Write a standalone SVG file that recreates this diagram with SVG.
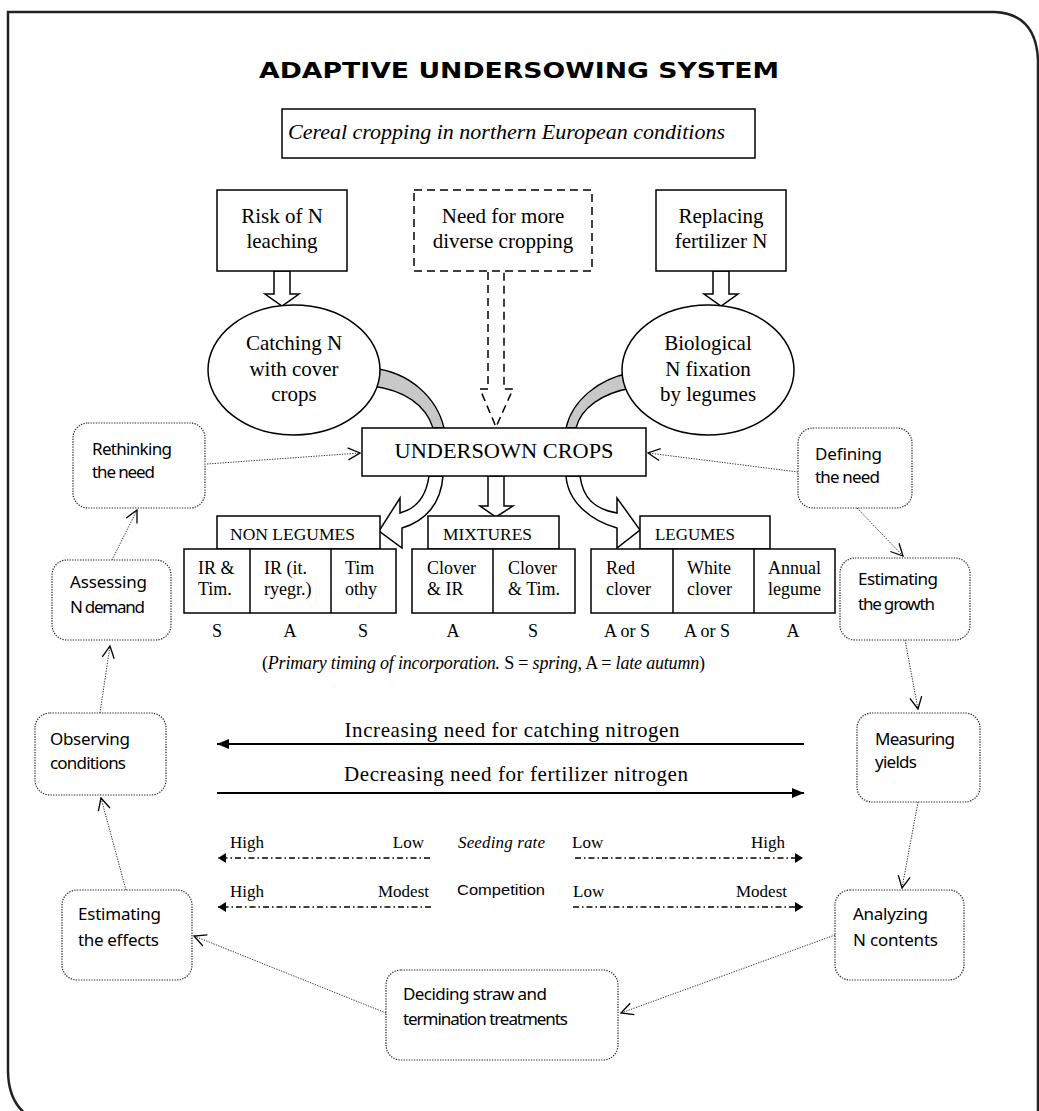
<svg xmlns="http://www.w3.org/2000/svg" width="1039" height="1111" viewBox="0 0 1039 1111">
<defs>
<style>
.frame{fill:none;stroke:#222;stroke-width:2.5}
.box{fill:#fff;stroke:#000;stroke-width:1.5}
.dbox{fill:#fff;stroke:#000;stroke-width:1.5;stroke-dasharray:8,5}
.ell{fill:#fff;stroke:#000;stroke-width:1.5}
.ser{font-family:"Liberation Serif","Times New Roman",serif;fill:#000}
.big{font-size:21px}
.cell{font-size:18px}
.hand{font-family:"Noto Sans","Open Sans",sans-serif;font-size:17px;fill:#000}
.cyc{fill:#fff;stroke:#222;stroke-width:1.2;stroke-dasharray:1.3,1.3}
.dot{fill:none;stroke:#333;stroke-width:1;stroke-dasharray:1.3,1.3}
.hollow{fill:#fff;stroke:#000;stroke-width:1.5;stroke-linejoin:miter}
.dhollow{fill:none;stroke:#000;stroke-width:1.5;stroke-dasharray:8,5}
.gray{fill:#c8c8c8;stroke:#000;stroke-width:1.3}
.dd{fill:none;stroke:#000;stroke-width:1.6;stroke-dasharray:6,3,1.5,3}
.solid{fill:none;stroke:#000;stroke-width:2}
</style>
<marker id="open" viewBox="0 0 14 14" refX="13" refY="7" markerWidth="14" markerHeight="14" markerUnits="userSpaceOnUse" orient="auto">
<path d="M1,1 L13,7 L1,13" fill="none" stroke="#000" stroke-width="1.3"/>
</marker>
<marker id="fill" viewBox="0 0 12 10" refX="12" refY="5" markerWidth="12" markerHeight="10" markerUnits="userSpaceOnUse" orient="auto">
<path d="M0,0 L12,5 L0,10 Z" fill="#000"/>
</marker>
<marker id="sm" viewBox="0 0 8 10" refX="8" refY="5" markerWidth="8" markerHeight="10" markerUnits="userSpaceOnUse" orient="auto">
<path d="M0,0 L8,5 L0,10 Z" fill="#000"/>
</marker>
</defs>
<rect width="1039" height="1111" fill="#fff"/>
<path class="frame" d="M40,1122 Q8,1110 8,1070 V12 H995 Q1036,14 1038,60 V1111"/>

<text x="519" y="78" text-anchor="middle" font-family="'DejaVu Sans','Liberation Sans',sans-serif" font-weight="bold" font-size="21" textLength="520" lengthAdjust="spacingAndGlyphs">ADAPTIVE UNDERSOWING SYSTEM</text>

<g id="context">
<rect class="box" x="282" y="109" width="473" height="49"/>
<text class="ser" x="288" y="139" font-size="21" font-style="italic" textLength="437" lengthAdjust="spacingAndGlyphs">Cereal cropping in northern European conditions</text>
</g>

<g id="connectors">
<!-- straight hollow arrows -->
<polygon class="hollow" points="274,271 290,271 290,294 299,294 282,306 265,294 274,294"/>
<polygon class="hollow" points="713,271 729,271 729,294 738,294 721,306 704,294 713,294"/>
<path class="dhollow" d="M488,272 V389 H480 L496,427 L513,389 H504 V272"/>
<polygon class="hollow" points="488,476 504,476 504,506 513,506 496,517 480,506 488,506"/>
<!-- gray bands -->
<path class="gray" d="M372,368 C410,372 437,398 444,428 L433,428 C426,405 404,390 372,386 Z"/>
<path class="gray" d="M630,373 C598,379 572,401 566,428 L576,428 C581,408 602,393 632,388 Z"/>
<!-- curved hollow arrows -->
<path class="hollow" d="M429,476 C426,498 415,509 400,513 L400,498 L379,531 L402,548 L402,528 C426,521 441,503 443,476 Z"/>
<path class="hollow" d="M580,476 C583,498 594,509 617,513 L617,498 L640,530 L617,548 L617,528 C592,521 568,503 566,476 Z"/>
<!-- cycle dotted connectors -->
<line class="dot" x1="207" y1="464" x2="360" y2="453" marker-end="url(#open)"/>
<line class="dot" x1="798" y1="472" x2="648" y2="453" marker-end="url(#open)"/>
<line class="dot" x1="857" y1="508" x2="903" y2="556" marker-end="url(#open)"/>
<line class="dot" x1="905" y1="640" x2="918" y2="709" marker-end="url(#open)"/>
<line class="dot" x1="918" y1="802" x2="902" y2="888" marker-end="url(#open)"/>
<line class="dot" x1="835" y1="935" x2="621" y2="1013" marker-end="url(#open)"/>
<line class="dot" x1="386" y1="1013" x2="194" y2="936" marker-end="url(#open)"/>
<line class="dot" x1="126" y1="890" x2="101" y2="798" marker-end="url(#open)"/>
<line class="dot" x1="100" y1="713" x2="110" y2="646" marker-end="url(#open)"/>
<line class="dot" x1="112" y1="560" x2="137" y2="510" marker-end="url(#open)"/>
<!-- gradient arrows -->
<line class="solid" x1="804" y1="744" x2="217" y2="744" marker-end="url(#fill)"/>
<line class="solid" x1="217" y1="793" x2="804" y2="793" marker-end="url(#fill)"/>
<line class="dd" x1="430" y1="858" x2="218" y2="858" marker-end="url(#sm)"/>
<line class="dd" x1="575" y1="858" x2="803" y2="858" marker-end="url(#sm)"/>
<line class="dd" x1="431" y1="907" x2="218" y2="907" marker-end="url(#sm)"/>
<line class="dd" x1="573" y1="907" x2="803" y2="907" marker-end="url(#sm)"/>
</g>

<g id="risk">
<rect class="box" x="217" y="190" width="130" height="81"/>
<text class="ser big" x="282" y="223" text-anchor="middle">Risk of N</text>
<text class="ser big" x="282" y="248" text-anchor="middle">leaching</text>
</g>
<g id="diverse">
<rect class="dbox" x="414" y="190" width="178" height="81"/>
<text class="ser big" x="503" y="223" text-anchor="middle">Need for more</text>
<text class="ser big" x="503" y="248" text-anchor="middle">diverse cropping</text>
</g>
<g id="replacing">
<rect class="box" x="656" y="190" width="130" height="81"/>
<text class="ser big" x="721" y="223" text-anchor="middle">Replacing</text>
<text class="ser big" x="721" y="248" text-anchor="middle">fertilizer N</text>
</g>

<g id="catching">
<ellipse class="ell" cx="294" cy="370" rx="86" ry="65"/>
<text class="ser big" x="294" y="350" text-anchor="middle">Catching N</text>
<text class="ser big" x="294" y="376" text-anchor="middle">with cover</text>
<text class="ser big" x="294" y="401" text-anchor="middle">crops</text>
</g>
<g id="fixation">
<ellipse class="ell" cx="708" cy="370" rx="86" ry="65"/>
<text class="ser big" x="708" y="350" text-anchor="middle">Biological</text>
<text class="ser big" x="708" y="376" text-anchor="middle">N fixation</text>
<text class="ser big" x="708" y="401" text-anchor="middle">by legumes</text>
</g>

<g id="undersown">
<rect class="box" x="362" y="428" width="284" height="48"/>
<text class="ser big" x="504" y="458" text-anchor="middle" textLength="219" lengthAdjust="spacingAndGlyphs">UNDERSOWN CROPS</text>
</g>

<g id="nonlegumes">
<rect class="box" x="217" y="516" width="163" height="33"/>
<text class="ser" x="230" y="540" font-size="17" textLength="125" lengthAdjust="spacingAndGlyphs">NON LEGUMES</text>
<rect class="box" x="184" y="549" width="212" height="64"/>
<line x1="250" y1="549" x2="250" y2="613" stroke="#000" stroke-width="1.5"/>
<line x1="331" y1="549" x2="331" y2="613" stroke="#000" stroke-width="1.5"/>
<text class="ser cell" x="198" y="574">IR &amp;</text>
<text class="ser cell" x="198" y="595">Tim.</text>
<text class="ser cell" x="264" y="574">IR (it.</text>
<text class="ser cell" x="264" y="595">ryegr.)</text>
<text class="ser cell" x="345" y="574">Tim</text>
<text class="ser cell" x="345" y="595">othy</text>
</g>
<g id="mixtures">
<rect class="box" x="428" y="516" width="131" height="33"/>
<text class="ser" x="443" y="540" font-size="17" textLength="89" lengthAdjust="spacingAndGlyphs">MIXTURES</text>
<rect class="box" x="412" y="549" width="163" height="64"/>
<line x1="493" y1="549" x2="493" y2="613" stroke="#000" stroke-width="1.5"/>
<text class="ser cell" x="427" y="574">Clover</text>
<text class="ser cell" x="427" y="595">&amp; IR</text>
<text class="ser cell" x="508" y="574">Clover</text>
<text class="ser cell" x="508" y="595">&amp; Tim.</text>
</g>
<g id="legumes">
<rect class="box" x="640" y="516" width="130" height="33"/>
<text class="ser" x="655" y="540" font-size="17" textLength="80" lengthAdjust="spacingAndGlyphs">LEGUMES</text>
<rect class="box" x="591" y="549" width="244" height="64"/>
<line x1="673" y1="549" x2="673" y2="613" stroke="#000" stroke-width="1.5"/>
<line x1="754" y1="549" x2="754" y2="613" stroke="#000" stroke-width="1.5"/>
<text class="ser cell" x="606" y="574">Red</text>
<text class="ser cell" x="606" y="595">clover</text>
<text class="ser cell" x="687" y="574">White</text>
<text class="ser cell" x="687" y="595">clover</text>
<text class="ser cell" x="768" y="574">Annual</text>
<text class="ser cell" x="768" y="595">legume</text>
</g>

<g id="timing" class="ser cell" text-anchor="middle">
<text x="217" y="637">S</text>
<text x="290" y="637">A</text>
<text x="363" y="637">S</text>
<text x="453" y="637">A</text>
<text x="533" y="637">S</text>
<text x="627" y="637">A or S</text>
<text x="707" y="637">A or S</text>
<text x="793" y="637">A</text>
</g>
<text class="ser cell" x="262" y="669" textLength="443">(<tspan font-style="italic">Primary timing of incorporation.</tspan> S = <tspan font-style="italic">spring,</tspan> A = <tspan font-style="italic">late autumn</tspan>)</text>

<g id="gradients" class="ser">
<text x="512" y="737" font-size="21" text-anchor="middle" textLength="335">Increasing need for catching nitrogen</text>
<text x="516" y="781" font-size="21" text-anchor="middle" textLength="344">Decreasing need for fertilizer nitrogen</text>
<text x="230" y="848" font-size="17">High</text>
<text x="424" y="848" font-size="17" text-anchor="end">Low</text>
<text x="458" y="848" font-size="17" font-style="italic" textLength="87">Seeding rate</text>
<text x="572" y="848" font-size="17">Low</text>
<text x="785" y="848" font-size="17" text-anchor="end">High</text>
<text x="230" y="897" font-size="17">High</text>
<text x="429" y="897" font-size="17" text-anchor="end">Modest</text>
<text x="457" y="895" font-family="'Liberation Sans',Arial,sans-serif" font-size="15" textLength="88" lengthAdjust="spacingAndGlyphs">Competition</text>
<text x="573" y="897" font-size="17">Low</text>
<text x="787" y="897" font-size="17" text-anchor="end">Modest</text>
</g>

<g id="rethinking">
<rect class="cyc" x="73" y="423" width="132" height="85" rx="15"/>
<text class="hand" x="92" y="455" textLength="80">Rethinking</text>
<text class="hand" x="92" y="478" textLength="63">the need</text>
</g>
<g id="assessing">
<rect class="cyc" x="52" y="560" width="119" height="80" rx="15"/>
<text class="hand" x="70" y="588" textLength="77">Assessing</text>
<text class="hand" x="70" y="613" textLength="75">N demand</text>
</g>
<g id="observing">
<rect class="cyc" x="35" y="713" width="131" height="82" rx="15"/>
<text class="hand" x="50" y="745" textLength="80">Observing</text>
<text class="hand" x="50" y="769" textLength="76">conditions</text>
</g>
<g id="effects">
<rect class="cyc" x="62" y="890" width="130" height="90" rx="15"/>
<text class="hand" x="78" y="920" textLength="83">Estimating</text>
<text class="hand" x="78" y="946" textLength="81">the effects</text>
</g>
<g id="deciding">
<rect class="cyc" x="386" y="970" width="232" height="90" rx="15"/>
<text class="hand" x="403" y="1000" textLength="144">Deciding straw and</text>
<text class="hand" x="403" y="1025" textLength="165">termination treatments</text>
</g>
<g id="analyzing">
<rect class="cyc" x="835" y="890" width="129" height="90" rx="15"/>
<text class="hand" x="853" y="920" textLength="75">Analyzing</text>
<text class="hand" x="853" y="946" textLength="85">N contents</text>
</g>
<g id="measuring">
<rect class="cyc" x="857" y="713" width="123" height="89" rx="15"/>
<text class="hand" x="875" y="745" textLength="80">Measuring</text>
<text class="hand" x="875" y="768" textLength="42">yields</text>
</g>
<g id="growth">
<rect class="cyc" x="840" y="558" width="130" height="82" rx="15"/>
<text class="hand" x="858" y="585" textLength="80">Estimating</text>
<text class="hand" x="858" y="610" textLength="77">the growth</text>
</g>
<g id="defining">
<rect class="cyc" x="798" y="428" width="114" height="80" rx="15"/>
<text class="hand" x="815" y="460" textLength="67">Defining</text>
<text class="hand" x="815" y="483" textLength="65">the need</text>
</g>
</svg>
